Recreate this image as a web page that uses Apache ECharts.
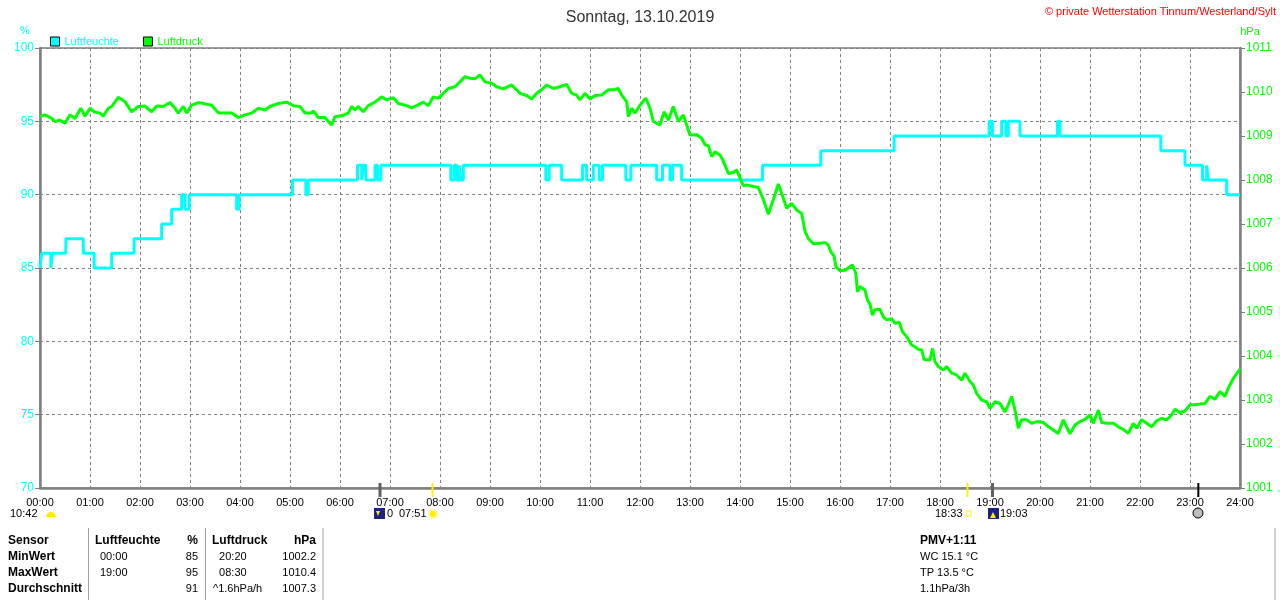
<!DOCTYPE html>
<html><head><meta charset="utf-8">
<script src="https://cdn.jsdelivr.net/npm/echarts@6/dist/echarts.min.js"></script>
<style>html,body{margin:0;padding:0;background:#fff}#c{width:1280px;height:600px}</style>
</head><body><div id="c"></div>
<script>
// time in minutes since 00:00, value
const humidity = [[0,85],[2,86],[13,85],[15,86],[31,87],[52,86],[65,85],[86,86],[113,87],[146,88],[158,89],[170,90],[174,89],[179,90],[236,89],[239,90],[303,91],[319,90],[322,91],[381,92],[386,91],[388,92],[391,91],[402,92],[405,91],[409,92],[493,91],[497,92],[500,91],[503,92],[505,91],[508,92],[607,91],[611,92],[626,91],[651,92],[656,91],[664,92],[671,91],[675,92],[703,91],[709,92],[740,91],[747,92],[756,91],[759,92],[770,91],[867,92],[937,93],[1025,94],[1139,95],[1143,94],[1154,95],[1159,94],[1162,95],[1176,94],[1221,95],[1224,94],[1345,93],[1374,92],[1395,91],[1400,92],[1402,91],[1424,90],[1440,90]];

const pressure = [[0,1009.45],[6,1009.48],[14,1009.40],[18,1009.33],[24,1009.36],[30,1009.29],[36,1009.48],[42,1009.40],[49,1009.63],[54,1009.45],[60,1009.63],[66,1009.54],[72,1009.52],[76,1009.45],[82,1009.63],[86,1009.67],[94,1009.88],[102,1009.78],[110,1009.55],[118,1009.67],[126,1009.68],[134,1009.55],[140,1009.68],[148,1009.67],[156,1009.76],[162,1009.63],[166,1009.52],[172,1009.67],[176,1009.52],[182,1009.70],[190,1009.76],[198,1009.73],[206,1009.70],[214,1009.53],[222,1009.52],[230,1009.52],[238,1009.42],[246,1009.48],[254,1009.52],[262,1009.63],[270,1009.59],[276,1009.67],[286,1009.74],
[296,1009.77],[304,1009.69],[312,1009.67],[318,1009.52],[326,1009.52],[328,1009.57],[334,1009.42],[342,1009.42],[346,1009.33],[350,1009.25],[354,1009.44],[362,1009.46],[370,1009.52],[374,1009.67],[378,1009.59],[382,1009.67],[388,1009.55],[394,1009.69],[402,1009.77],[410,1009.89],[416,1009.82],[424,1009.87],[430,1009.74],[440,1009.69],[446,1009.64],[452,1009.69],[460,1009.77],[466,1009.69],[472,1009.89],[478,1009.86],[484,1009.97],[490,1010.08],[498,1010.12],[504,1010.23],[510,1010.35],[516,1010.31],[522,1010.30],[528,1010.39],[534,1010.23],[542,1010.20],[548,1010.12],[556,1010.07],[566,1010.16],[572,1010.05],
[576,1009.97],[584,1009.92],[590,1009.84],[596,1009.97],[602,1010.05],[608,1010.16],[616,1010.08],[624,1010.12],[632,1010.17],[638,1009.97],[644,1009.93],[648,1009.82],[654,1009.97],[660,1009.84],[666,1009.92],[674,1009.93],[682,1010.05],[688,1010.05],[694,1010.08],[698,1009.93],[704,1009.78],[706,1009.44],[710,1009.63],[714,1009.52],[720,1009.70],[727,1009.86],[732,1009.63],[736,1009.33],[744,1009.25],[749,1009.55],[754,1009.36],[760,1009.67],[766,1009.33],[772,1009.48],[776,1009.25],[780,1009.02],[788,1009.03],[794,1008.95],[798,1008.80],[802,1008.78],[806,1008.53],[810,1008.64],[816,1008.57],[820,1008.43],[826,1008.15],[832,1008.17],[836,1008.23],[840,1008.05],[844,1007.87],[848,1007.89],[856,1007.85],[862,1007.83],[868,1007.56],[874,1007.22],
[880,1007.55],[886,1007.91],[890,1007.70],[896,1007.36],[902,1007.47],[908,1007.32],[914,1007.24],
[918,1006.84],[922,1006.67],[928,1006.55],[936,1006.56],[942,1006.58],[946,1006.52],[949,1006.37],[953,1006.27],[955,1006.03],[960,1005.94],[966,1005.95],[972,1006.03],[975,1006.07],[979,1005.88],[981,1005.46],[984,1005.58],[990,1005.50],[993,1005.27],[996,1005.18],[999,1004.93],[1002,1005.05],[1008,1005.06],[1012,1004.89],[1016,1004.82],[1022,1004.85],[1026,1004.74],[1031,1004.77],[1035,1004.55],[1040,1004.44],[1046,1004.25],[1050,1004.21],[1054,1004.15],[1058,1004.14],[1061,1003.92],[1068,1003.91],[1071,1004.17],[1074,1003.87],[1078,1003.76],[1084,1003.68],[1088,1003.76],[1094,1003.61],[1100,1003.57],[1106,1003.45],[1110,1003.61],[1116,1003.42],[1120,1003.34],[1124,1003.15],[1130,1003.00],[1136,1002.96],[1140,1002.81],[1146,1002.96],
[1152,1002.92],[1158,1002.73],[1162,1002.89],[1166,1003.08],[1170,1002.77],[1174,1002.36],[1178,1002.55],[1184,1002.55],[1190,1002.47],[1196,1002.51],[1204,1002.49],[1210,1002.39],[1216,1002.32],[1222,1002.24],[1228,1002.55],[1232,1002.39],[1236,1002.23],[1242,1002.43],[1248,1002.51],[1254,1002.56],[1260,1002.66],[1264,1002.47],[1270,1002.77],[1274,1002.49],[1280,1002.47],[1288,1002.47],[1294,1002.39],[1300,1002.33],[1306,1002.24],[1312,1002.47],[1316,1002.36],[1322,1002.55],[1328,1002.47],[1334,1002.39],[1340,1002.53],[1346,1002.58],[1352,1002.55],[1358,1002.66],[1362,1002.79],[1368,1002.71],[1374,1002.75],[1380,1002.89],[1386,1002.89],[1392,1002.91],[1398,1002.92],[1404,1003.08],[1410,1003.02],[1416,1003.19],[1422,1003.08],[1426,1003.27],[1432,1003.49],[1440,1003.70]];

// sun / moon markers on time axis (minutes) and colours
const markerTimes = [408, 471, 1113, 1143, 1390];
const markerColors = ['#606060', '#ffee00', '#ffee00', '#606060', '#000000'];

// summary table
const tableRows = ['Sensor', 'MinWert', 'MaxWert', 'Durchschnitt'];
const humTimes = ['Luftfeuchte', '00:00', '19:00', ''];
const humVals = ['%', '85', '95', '91'];
const presTimes = ['Luftdruck', '  20:20', '  08:30', '^1.6hPa/h'];
const presVals = ['hPa', '1002.2', '1010.4', '1007.3'];
const extraInfo = ['PMV+1:11', 'WC 15.1 °C', 'TP 13.5 °C', '1.1hPa/3h'];

const CYAN = '#00ffff', GREEN = '#00ff00', GRAY = '#808080';
const FONT = 'Liberation Sans, Arial, sans-serif';

const chart = echarts.init(document.getElementById('c'));
const fmt = v => String(Math.floor(v / 60)).padStart(2, '0') + ':' + String(v % 60).padStart(2, '0');

chart.setOption({
  animation: false,
  textStyle: { fontFamily: FONT },
  title: { text: 'Sonntag, 13.10.2019', left: 'center', top: 5,
    textStyle: { fontSize: 16, fontWeight: 'normal', color: '#333', fontFamily: FONT } },
  legend: {
    left: 45, top: 31, itemWidth: 9, itemHeight: 9, itemGap: 24, icon: 'rect',
    textStyle: { fontSize: 11, fontFamily: FONT },
    data: [
      { name: 'Luftfeuchte', textStyle: { color: CYAN }, itemStyle: { borderColor: '#000', borderWidth: 1 } },
      { name: 'Luftdruck', textStyle: { color: GREEN }, itemStyle: { borderColor: '#000', borderWidth: 1 } }
    ]
  },
  grid: { left: 40, right: 40, top: 48, bottom: 112, show: true, borderColor: GRAY, borderWidth: 1.5 },
  xAxis: {
    type: 'value', min: 0, max: 1440, interval: 60,
    axisLine: { show: true, lineStyle: { color: GRAY, width: 2.5 } },
    axisTick: { show: false },
    axisLabel: { formatter: fmt, color: '#000', fontSize: 11, margin: 9, fontFamily: FONT },
    splitLine: { show: true, lineStyle: { color: GRAY, type: [3, 3], width: 1 } }
  },
  yAxis: [
    { type: 'value', min: 70, max: 100, interval: 5, position: 'left',
      axisLine: { show: true, lineStyle: { color: GRAY, width: 2.5 } },
      axisTick: { show: true, length: 5, lineStyle: { color: GRAY } },
      axisLabel: { color: CYAN, fontSize: 12, margin: 6, fontFamily: FONT, formatter: v => String(v) },
      splitLine: { show: true, lineStyle: { color: GRAY, type: [3, 3], width: 1 } } },
    { type: 'value', min: 1001, max: 1011, interval: 1, position: 'right',
      axisLine: { show: true, lineStyle: { color: GRAY, width: 2.5 } },
      axisTick: { show: true, length: 5, lineStyle: { color: GRAY } },
      axisLabel: { color: GREEN, fontSize: 12, margin: 6, fontFamily: FONT, formatter: v => String(v) },
      splitLine: { show: false } }
  ],
  series: [
    { name: 'Luftfeuchte', type: 'line', step: 'end', yAxisIndex: 0, data: humidity,
      showSymbol: false, color: CYAN, lineStyle: { color: CYAN, width: 3 }, z: 3 },
    { name: 'Luftdruck', type: 'line', yAxisIndex: 1, data: pressure,
      showSymbol: false, color: GREEN, lineStyle: { color: GREEN, width: 3 }, z: 4 }
  ]
});

// decorations
const g = [];
const txt = (x, y, s, opt = {}) => g.push({ type: 'text', x, y, silent: true,
  style: Object.assign({ text: s, fill: '#000', font: (opt.bold ? 'bold ' : '') + (opt.size || 11) + 'px ' + FONT,
    textAlign: opt.align || 'left', textVerticalAlign: 'middle' }, opt.style || {}) });

txt(1276, 12, '© private Wetterstation Tinnum/Westerland/Sylt', { align: 'right', style: { fill: '#ff0000' } });
txt(25, 31, '%', { align: 'center', style: { fill: CYAN } });
txt(1250, 32, 'hPa', { align: 'center', style: { fill: GREEN } });

// markers on axis
const y0 = chart.convertToPixel({ yAxisIndex: 0 }, 70);
markerTimes.forEach((t, i) => {
  const x = chart.convertToPixel({ xAxisIndex: 0 }, t);
  g.push({ type: 'line', silent: true, z: 10, shape: { x1: x, y1: y0 - 5, x2: x, y2: y0 + 9 },
    style: { stroke: markerColors[i], lineWidth: i === 0 || i === 3 ? 3 : 2 } });
});

// sun/moon labels
txt(10, 514, '10:42');
g.push({ type: 'sector', silent: true, shape: { cx: 51, cy: 517, r: 5, r0: 0, startAngle: Math.PI, endAngle: 2 * Math.PI }, style: { fill: '#ffee00' } });
g.push({ type: 'rect', silent: true, shape: { x: 374, y: 508, width: 11, height: 11 }, style: { fill: '#1a237e' } });
g.push({ type: 'polygon', silent: true, shape: { points: [[376, 511], [380, 511], [378, 516]] }, style: { fill: '#ffee00' } });
txt(387, 514, '0');
txt(399, 514, '07:51');
g.push({ type: 'circle', silent: true, shape: { cx: 433, cy: 514, r: 4 }, style: { fill: '#ffee00', stroke: '#fff7a0', lineWidth: 2 } });
txt(935, 514, '18:33');
g.push({ type: 'rect', silent: true, shape: { x: 966, y: 511, width: 5, height: 5 }, style: { fill: '#fff', stroke: '#ffee00', lineWidth: 1 } });
g.push({ type: 'rect', silent: true, shape: { x: 988, y: 508, width: 11, height: 11 }, style: { fill: '#1a237e' } });
g.push({ type: 'polygon', silent: true, shape: { points: [[993, 512], [996, 518], [990, 518]] }, style: { fill: '#ffee00' } });
txt(1000, 514, '19:03');
g.push({ type: 'circle', silent: true, shape: { cx: 1198, cy: 513, r: 5 }, style: { fill: '#bdbdbd', stroke: '#000', lineWidth: 1 } });

// table separators
[88.5, 205.5, 323, 1275].forEach(x => g.push({ type: 'line', silent: true,
  shape: { x1: x, y1: 528, x2: x, y2: 600 }, style: { stroke: '#a0a0a0', lineWidth: 1 } }));

const rowY = [541, 557, 573, 589];
rowY.forEach((y, i) => {
  txt(8, y, tableRows[i], { bold: true, size: 12 });
  txt(i === 0 ? 95 : 100, y, humTimes[i], { bold: i === 0, size: i === 0 ? 12 : 11 });
  txt(198, y, humVals[i], { bold: i === 0, size: i === 0 ? 12 : 11, align: 'right' });
  txt(i === 0 ? 212 : 213, y, presTimes[i], { bold: i === 0, size: i === 0 ? 12 : 11 });
  txt(316, y, presVals[i], { bold: i === 0, size: i === 0 ? 12 : 11, align: 'right' });
  txt(920, y, extraInfo[i], { bold: i === 0, size: i === 0 ? 12 : 11 });
});

chart.setOption({ graphic: g });
</script>
</body></html>
